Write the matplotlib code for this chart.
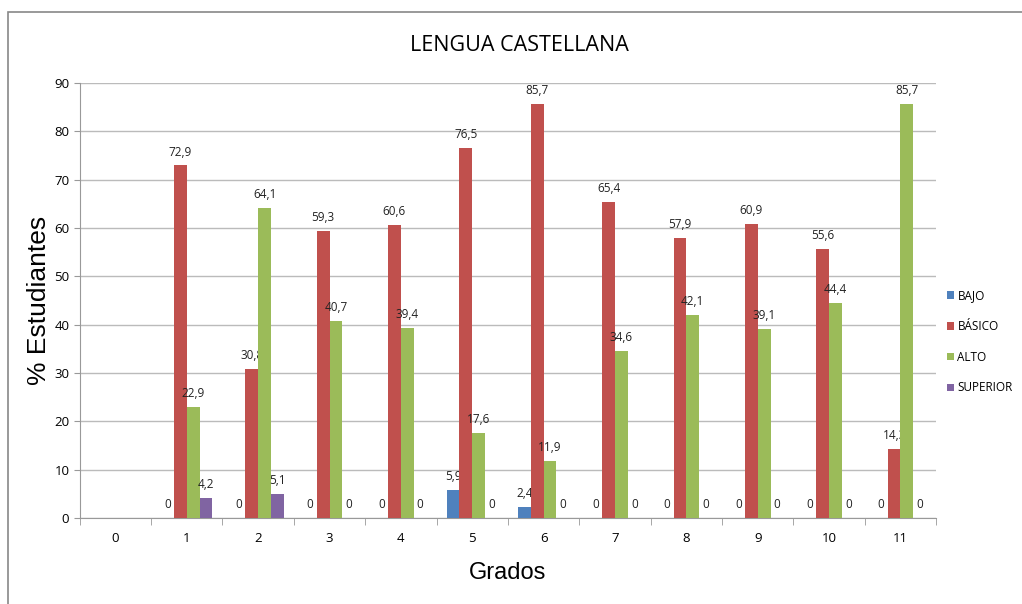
import matplotlib
matplotlib.use("Agg")
import matplotlib.pyplot as plt
from matplotlib.patches import Rectangle
import numpy as np

grados = ["0", "1", "2", "3", "4", "5", "6", "7", "8", "9", "10", "11"]
series = ["BAJO", "BÁSICO", "ALTO", "SUPERIOR"]
bajo = [np.nan, 0, 0, 0, 0, 5.9, 2.4, 0, 0, 0, 0, 0]
basico = [np.nan, 72.9, 30.8, 59.3, 60.6, 76.5, 85.7, 65.4, 57.9, 60.9, 55.6, 14.3]
alto = [np.nan, 22.9, 64.1, 40.7, 39.4, 17.6, 11.9, 34.6, 42.1, 39.1, 44.4, 85.7]
superior = [np.nan, 4.2, 5.1, 0, 0, 0, 0, 0, 0, 0, 0, 0]
colores = ["#4F81BD", "#C0504D", "#9BBB59", "#8064A2"]

fig = plt.figure(figsize=(10.22, 6.04), dpi=100)
fig.patches.append(Rectangle((0.008, -0.01), 1.1, 0.99, transform=fig.transFigure,
                             fill=False, edgecolor="#888888", linewidth=1.2))
ax = fig.add_axes([0.078, 0.142, 0.838, 0.721])

x = np.arange(len(grados))
w = 0.18
for i, (nombre, vals) in enumerate(zip(series, [bajo, basico, alto, superior])):
    pos = x + (i - 1.5) * w
    ax.bar(pos, vals, width=w, color=colores[i], label=nombre, zorder=3)
    for p, v in zip(pos, vals):
        if np.isnan(v):
            continue
        txt = ("%.1f" % v).replace(".", ",") if v != 0 else "0"
        ax.annotate(txt, (p, v), xytext=(0, 5), textcoords="offset points",
                    ha="center", va="bottom", fontsize=8.5, color="#222222",
                    fontfamily="Open Sans")

ax.set_xlim(-0.5, 11.5)
ax.set_ylim(0, 90)
ax.set_yticks(range(0, 91, 10))
ax.set_xticks(x)
ax.set_xticklabels(grados, fontsize=9.5, fontfamily="Open Sans")
ax.set_xticks(np.arange(-0.5, 11.6, 1), minor=True)
ax.tick_params(axis="x", which="major", length=0, pad=10)
ax.tick_params(axis="x", which="minor", length=5, color="#999999", direction="out")
ax.tick_params(axis="y", length=4, color="#999999", labelsize=9.5)
for lab in ax.get_yticklabels():
    lab.set_fontfamily("Open Sans")
ax.grid(axis="y", color="#bbbbbb", linewidth=1, zorder=0)
for s in ["top", "right"]:
    ax.spines[s].set_visible(False)
ax.spines["left"].set_color("#999999")
ax.spines["bottom"].set_color("#999999")

ax.set_ylabel("% Estudiantes", fontsize=19, fontfamily="Liberation Sans", labelpad=2)
ax.set_xlabel("Grados", fontsize=17, fontfamily="Liberation Sans", labelpad=12)
fig.text(0.508, 0.925, "LENGUA CASTELLANA", ha="center", va="center",
         fontsize=15.5, fontfamily="Open Sans")

ax.legend(loc="upper left", bbox_to_anchor=(1.0, 0.55), frameon=False,
          handlelength=0.6, handleheight=0.6, handletextpad=0.3, labelspacing=1.5,
          prop={"family": "Open Sans", "size": 8.5})

fig.savefig("out.png", dpi=100)
